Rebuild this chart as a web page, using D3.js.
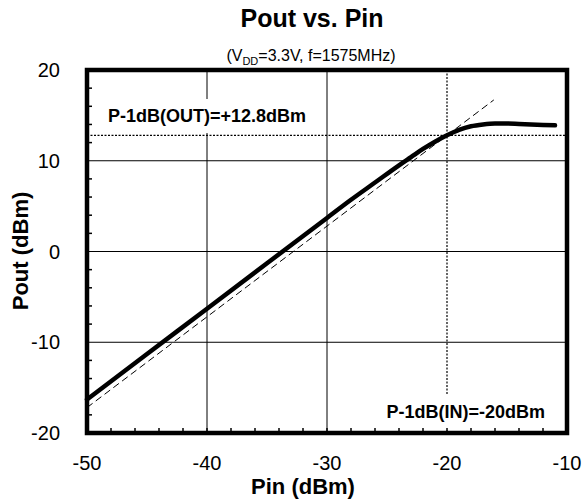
<!DOCTYPE html>
<html>
<head>
<meta charset="utf-8">
<script src="https://cdn.jsdelivr.net/npm/d3@7"></script>
<style>
  body { margin: 0; background: #fff; }
  svg { font-family: "Liberation Sans", Arial, sans-serif; }
  .grid line { stroke: #000; stroke-width: 1; }
  .tick-label { font-size: 20px; fill: #000; }
</style>
</head>
<body>
<svg id="chart" width="586" height="503"></svg>
<script>
/**
 * Pout vs. Pin (VDD=3.3V, f=1575MHz)
 */
const pinValues  = [-50, -45, -40, -35, -30, -28, -26, -24, -23, -22, -21, -20, -19, -18, -17, -16, -15, -14, -13, -12, -11];
const poutValues = [-16.3, -11.3, -6.3, -1.3, 3.7, 5.7, 7.6, 9.5, 10.4, 11.3, 12.1, 12.8, 13.4, 13.8, 14.0, 14.1, 14.1, 14.05, 14.0, 13.95, 13.9];

// ideal linear-gain reference (dashed)
const linearPin  = [-50, -16.1];
const linearPout = [-17.2, 16.7];

const xTicks = [-50, -40, -30, -20, -10];
const yTicks = [-20, -10, 0, 10, 20];
const xGrid = [-40, -30];
const yGrid = [-10, 0, 10];

const p1dbIn = -20, p1dbOut = 12.8;
const labelOut = 'P-1dB(OUT)=+12.8dBm';
const labelIn = 'P-1dB(IN)=-20dBm';

/**
 * Visual configs.
 */
const visWidth = 586, visHeight = 503,
    margin = { top: 70, right: 19, bottom: 70, left: 87 },
    width = visWidth - margin.left - margin.right,
    height = visHeight - margin.top - margin.bottom,
    boxPad = 7;

const svg = d3.select('#chart');

const xScale = d3.scaleLinear().domain([-50, -10]).range([0, width]);
const yScale = d3.scaleLinear().domain([-20, 20]).range([height, 0]);

// Titles
svg.append('text')
    .attr('x', 312).attr('y', 27)
    .attr('text-anchor', 'middle')
    .style('font-size', '25px').style('font-weight', 'bold')
    .text('Pout vs. Pin');

const sub = svg.append('text')
    .attr('x', 311).attr('y', 61)
    .attr('text-anchor', 'middle')
    .style('font-size', '16px');
sub.append('tspan').text('(V');
sub.append('tspan').attr('dy', 4).style('font-size', '11px').text('DD');
sub.append('tspan').attr('dy', -4).text('=3.3V, f=1575MHz)');

const g = svg.append('g').attr('transform', 'translate(' + margin.left + ',' + margin.top + ')');

// Grid
const grid = g.append('g').attr('class', 'grid');
grid.selectAll('.gx').data(xGrid).enter().append('line')
    .attr('x1', d => xScale(d)).attr('x2', d => xScale(d))
    .attr('y1', 0).attr('y2', height);
grid.selectAll('.gy').data(yGrid).enter().append('line')
    .attr('y1', d => yScale(d)).attr('y2', d => yScale(d))
    .attr('x1', 0).attr('x2', width);

// P-1dB markers (dotted)
g.append('line')
    .attr('x1', xScale(p1dbIn)).attr('x2', xScale(p1dbIn))
    .attr('y1', 0).attr('y2', height)
    .attr('stroke', '#000').attr('stroke-width', 1.2)
    .attr('stroke-dasharray', '2,1.5');
g.append('line')
    .attr('x1', 0).attr('x2', width)
    .attr('y1', yScale(p1dbOut)).attr('y2', yScale(p1dbOut))
    .attr('stroke', '#000').attr('stroke-width', 1.2)
    .attr('stroke-dasharray', '2,1.5');

// Annotation boxes (white, hide the grid behind the labels)
const boxLayer = g.append('g');

// Linear reference (dashed)
const line = d3.line().x(d => xScale(d[0])).y(d => yScale(d[1]));
g.append('path')
    .datum(d3.zip(linearPin, linearPout))
    .attr('d', line)
    .attr('fill', 'none').attr('stroke', '#000').attr('stroke-width', 1)
    .attr('stroke-dasharray', '7,4');

// Measured curve
g.append('path')
    .datum(d3.zip(pinValues, poutValues))
    .attr('d', line.curve(d3.curveMonotoneX))
    .attr('fill', 'none').attr('stroke', '#000').attr('stroke-width', 4.5)
    .attr('stroke-linecap', 'round');

// Minor ticks, inward
const xMinor = d3.range(-48, -10, 2).filter(d => d % 10 !== 0);
const yMinor = d3.range(-18, 20, 2).filter(d => d % 10 !== 0);
g.selectAll('.tx').data(xMinor.concat([-40, -30, -20])).enter().append('line')
    .attr('x1', d => xScale(d)).attr('x2', d => xScale(d))
    .attr('y1', height).attr('y2', height - 5)
    .attr('stroke', '#000').attr('stroke-width', 1.5);
g.selectAll('.ty').data(yMinor).enter().append('line')
    .attr('y1', d => yScale(d)).attr('y2', d => yScale(d))
    .attr('x1', 0).attr('x2', 5)
    .attr('stroke', '#000').attr('stroke-width', 1.5);

// Frame
g.append('rect')
    .attr('width', width).attr('height', height)
    .attr('fill', 'none').attr('stroke', '#000').attr('stroke-width', 4.5);

// Annotations
const annotations = [
    { text: labelOut, x: 21, y: 52, anchor: 'start' },
    { text: labelIn, x: 458, y: 348, anchor: 'end' }
];
annotations.forEach(a => {
    const t = g.append('text')
        .attr('x', a.x).attr('y', a.y)
        .attr('text-anchor', a.anchor)
        .style('font-size', '18px').style('font-weight', 'bold')
        .text(a.text);
    const bb = t.node().getBBox();
    boxLayer.append('rect')
        .attr('x', bb.x - boxPad).attr('y', bb.y - boxPad)
        .attr('width', bb.width + boxPad * 2).attr('height', bb.height + boxPad * 2)
        .attr('fill', '#fff');
});

// Tick labels
svg.selectAll('.xl').data(xTicks).enter().append('text')
    .attr('class', 'tick-label')
    .attr('x', d => margin.left + xScale(d)).attr('y', 470)
    .attr('text-anchor', 'middle')
    .text(d => d);
svg.selectAll('.yl').data(yTicks).enter().append('text')
    .attr('class', 'tick-label')
    .attr('x', 60).attr('y', d => margin.top + yScale(d) + 7)
    .attr('text-anchor', 'end')
    .text(d => d);

// Axis titles
svg.append('text')
    .attr('x', 303).attr('y', 494)
    .attr('text-anchor', 'middle')
    .style('font-size', '22px').style('font-weight', 'bold')
    .text('Pin (dBm)');
svg.append('text')
    .attr('transform', 'translate(28,251) rotate(-90)')
    .attr('text-anchor', 'middle')
    .style('font-size', '22px').style('font-weight', 'bold')
    .text('Pout (dBm)');
</script>
</body>
</html>
